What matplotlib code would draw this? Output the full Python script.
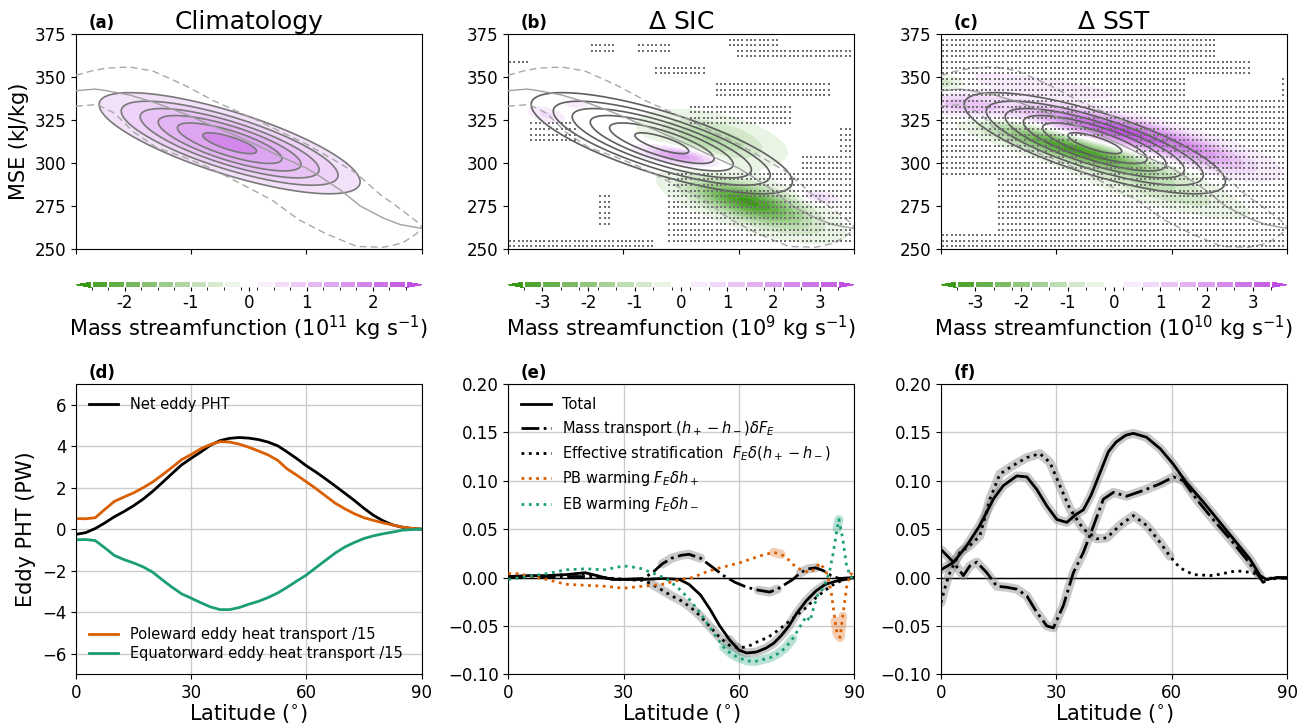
import numpy as np
import matplotlib
matplotlib.use("Agg")
import matplotlib.pyplot as plt
from matplotlib.colors import LinearSegmentedColormap, BoundaryNorm
from matplotlib.cm import ScalarMappable

# ------------------------------------------------------------------ data
lat_ticks = [0, 30, 60, 90]
mse_ticks = [250, 275, 300, 325, 350, 375]

# climatological mass streamfunction (10^11 kg/s), one sheared gaussian lobe
clim_x0 = [40.0]
clim_y0 = [311.5]
clim_amp = [1.85]
clim_a = [21.0]
clim_b = [11.75]
clim_slope = [-0.66]
clim_levels = [0.5, 0.75, 1.0, 1.25, 1.5, 1.75]

# Delta SIC (10^9 kg/s)
sic_x0 = [62, 53, 70, 45, 81, 10, 18]
sic_y0 = [278.5, 314, 266, 304, 280, 328, 334.5]
sic_amp = [-3.3, -1.45, -0.8, 2.3, 0.9, 0.7, 0.6]
sic_a = [10, 10, 10, 6, 3, 3, 2]
sic_b = [6.5, 8, 6, 3, 2.5, 2.5, 1.5]
sic_slope = [-0.5, -0.4, -0.5, -0.35, -0.3, -0.5, 0.0]

# Delta SST (10^10 kg/s)
sst_x0 = [47, 6, 70, 26, 35, 58, 0]
sst_y0 = [318.5, 333, 302, 345, 307.5, 283, 346]
sst_amp = [3.5, 1.3, 1.0, 0.55, -3.5, -0.9, -1.0]
sst_a = [16, 8, 9, 13, 15, 13, 4]
sst_b = [5.0, 5.0, 5.0, 3.0, 5.0, 5.5, 4.0]
sst_slope = [-0.5, -0.3, -0.55, -0.3, -0.6, -0.55, 0.0]

# zonal-mean MSE and its spread
mse_lat = [0, 5, 8, 14, 20, 25.5, 30, 34, 38, 43, 47, 51.5, 56, 60, 64, 69, 74, 80, 84.4, 90]
mse_mean = [342, 343, 342, 339.5, 335.5, 331, 327, 323, 319.5, 314.5, 310.5, 305.6, 301,
            297, 291.5, 284, 275, 268, 264.2, 262]
up_lat = [0, 4, 8, 14, 20, 28, 36, 41, 47, 53, 60, 67, 73, 79, 84, 88.7, 90]
mse_upper = [351, 353.5, 355.2, 355.8, 353.5, 345.5, 336, 331, 325, 318.5, 311, 302, 294,
             282, 274, 266, 263]
lo_lat = [0, 5.5, 10, 15, 21, 28, 34, 39, 45, 51, 58, 65, 73, 80, 85, 88.7, 90]
mse_lower = [333, 334, 329, 318, 309, 303.5, 298, 292.5, 285.5, 278.5, 267, 259, 251.5,
             251, 253.5, 259, 263]

# colour levels
levels_a = [-2.5, -2.25, -2.0, -1.75, -1.5, -1.25, -1.0, -0.75, -0.5, -0.25,
            0.25, 0.5, 0.75, 1.0, 1.25, 1.5, 1.75, 2.0, 2.25, 2.5]
levels_bc = [-3.4, -3.0, -2.6, -2.2, -1.8, -1.4, -1.0, -0.6, -0.2,
             0.2, 0.6, 1.0, 1.4, 1.8, 2.2, 2.6, 3.0, 3.4]
cbar_ticks_a = [-2, -1, 0, 1, 2]
cbar_ticks_bc = [-3, -2, -1, 0, 1, 2, 3]

# stippling: significant regions
stip_x = np.arange(0.5, 90, 1.12)
stip_y = np.arange(251.5, 375, 3.25)
sic_sig_x0 = [21, 33, 57, 59, 0, 38, 54, 5, 47, 41, 76, 0, 23, 86]
sic_sig_x1 = [28, 42, 70, 89, 5, 52, 84, 18, 74, 90, 90, 38, 27, 90]
sic_sig_y0 = [364, 364, 366, 361, 356, 350, 339, 313, 321, 252, 294, 251, 262, 300]
sic_sig_y1 = [369, 370, 373, 366, 361, 358, 348, 326, 333, 294, 305, 257, 282, 322]
sst_ns_x0 = [72, 81, 64, 0, 36]
sst_ns_x1 = [90, 90, 88, 15, 50]
sst_ns_y0 = [362, 352, 338, 261, 304]
sst_ns_y1 = [376, 362, 352, 291, 316]

# (d) eddy heat transport
d_lat = [0, 2.5, 5, 7.5, 10, 12.5, 15, 17.5, 20, 22.5, 25, 27.5, 30, 32.5, 35, 37.5, 40,
         42.5, 45, 47.5, 50, 52.5, 55, 57.5, 60, 62.5, 65, 67.5, 70, 72.5, 75, 77.5, 80,
         82.5, 85, 87.5, 90]
d_net = [-0.25, -0.17, 0.03, 0.3, 0.6, 0.85, 1.13, 1.45, 1.83, 2.25, 2.68, 3.1, 3.42, 3.72,
         4.05, 4.27, 4.38, 4.42, 4.39, 4.32, 4.2, 4.02, 3.72, 3.4, 3.05, 2.75, 2.42, 2.08,
         1.73, 1.38, 1.0, 0.66, 0.4, 0.2, 0.09, 0.03, 0.0]
d_pole = [0.51, 0.5, 0.55, 0.95, 1.34, 1.55, 1.75, 2.0, 2.28, 2.62, 2.98, 3.35, 3.6, 3.88,
          4.08, 4.22, 4.2, 4.1, 3.95, 3.77, 3.58, 3.32, 2.9, 2.6, 2.28, 1.95, 1.6, 1.25,
          0.98, 0.74, 0.55, 0.42, 0.3, 0.2, 0.1, 0.04, 0.0]
d_equ = [-0.51, -0.5, -0.55, -0.9, -1.27, -1.47, -1.63, -1.82, -2.08, -2.45, -2.8, -3.12,
         -3.33, -3.55, -3.75, -3.88, -3.88, -3.78, -3.62, -3.48, -3.3, -3.08, -2.8, -2.5,
         -2.21, -1.85, -1.5, -1.15, -0.86, -0.64, -0.45, -0.32, -0.22, -0.14, -0.05, -0.02, 0.0]

# (e) Delta SIC decomposition
e_tot_lat = [0, 5, 10, 15, 20, 23, 27, 30, 35, 40, 44.5, 47, 50, 52.5, 55, 57.5, 60, 62,
             64.5, 67, 69, 71, 73, 75, 77.5, 80, 82.5, 85, 87.5, 90]
e_tot = [0.001, 0.002, 0.002, 0.003, 0.005, 0.002, -0.002, -0.002, -0.002, -0.001, -0.002,
         -0.007, -0.018, -0.033, -0.05, -0.064, -0.075, -0.078, -0.077, -0.073, -0.068,
         -0.060, -0.050, -0.037, -0.024, -0.014, -0.007, -0.004, -0.002, 0.0]
e_mass_lat = [0, 10, 20, 30, 35, 37.5, 40, 42.5, 45, 47, 50, 53, 56, 59, 62, 65, 68, 70, 72,
              74, 76, 78, 80, 82, 84, 86, 90]
e_mass = [0, 0.001, 0.001, -0.002, -0.001, 0.005, 0.014, 0.020, 0.023, 0.024, 0.020, 0.011,
          0.002, -0.005, -0.010, -0.013, -0.015, -0.012, -0.007, -0.002, 0.005, 0.009,
          0.010, 0.007, 0.002, -0.001, 0.0]
e_strat_lat = [0, 5, 10, 15, 20, 25, 30, 35, 37, 40, 42.5, 45, 47.5, 50, 52.5, 55, 57.5, 60,
               62.5, 65, 67.5, 70, 72.5, 75, 77.5, 80, 82.5, 85, 87.5, 90]
e_strat = [0.001, 0.001, 0.002, 0.003, 0.004, 0.0, -0.002, -0.003, -0.006, -0.013, -0.019,
           -0.024, -0.031, -0.040, -0.051, -0.062, -0.070, -0.073, -0.071, -0.066, -0.062,
           -0.055, -0.047, -0.039, -0.031, -0.021, -0.013, -0.006, -0.002, 0.0]
e_pb_lat = [0, 2.5, 5, 10, 15, 20, 25, 30, 35, 40, 45, 48, 51, 54, 57, 60, 63, 66, 69, 71,
            73, 75, 77, 78.5, 80, 81, 82, 83, 84, 85, 85.5, 86.3, 87, 88, 89, 90]
e_pb = [0.004, 0.004, 0.002, -0.002, -0.007, -0.008, -0.009, -0.011, -0.009, -0.007, -0.002,
        0.0, 0.005, 0.009, 0.012, 0.015, 0.019, 0.023, 0.026, 0.024, 0.018, 0.010, 0.007,
        0.005, 0.010, 0.015, 0.010, 0.003, -0.015, -0.045, -0.058, -0.062, -0.040, -0.010,
        0.004, 0.002]
e_eb_lat = [0, 5, 10, 15, 20, 25, 30, 34, 38, 41, 44, 47, 50, 53, 56, 58, 60, 62, 64, 66,
            68, 70, 72, 74, 76, 77.5, 78.5, 79.5, 80.5, 82, 83.5, 84.5, 85.5, 86, 87, 88,
            89, 90]
e_eb = [-0.002, 0.001, 0.004, 0.008, 0.009, 0.008, 0.012, 0.010, 0.004, -0.001, -0.010,
        -0.022, -0.037, -0.055, -0.072, -0.079, -0.083, -0.086, -0.087, -0.085, -0.083,
        -0.079, -0.073, -0.063, -0.050, -0.040, -0.045, -0.030, -0.018, -0.010, 0.005,
        0.025, 0.050, 0.060, 0.040, 0.012, 0.001, -0.002]
e_labels = ["Total",
            r"Mass transport $(h_+ - h_-)\delta F_E$",
            r"Effective stratification  $F_E\delta(h_+ - h_-)$",
            r"PB warming $F_E\delta h_+$",
            r"EB warming $F_E\delta h_-$"]

# (f) Delta SST decomposition
f_tot_lat = [0, 3.2, 6.7, 10.1, 13.6, 16.2, 19.7, 22.3, 24.9, 27.5, 30.1, 32.7, 35, 37,
             39, 41.5, 43.5, 45.5, 48, 50, 53.4, 57, 60.4, 63.8, 68.2, 72.5, 76.8, 80.3,
             82.9, 84.6, 87.2, 90]
f_tot = [0.008, 0.0155, 0.033, 0.054, 0.081, 0.095, 0.105, 0.104, 0.091, 0.074, 0.06,
         0.057, 0.065, 0.07, 0.085, 0.11, 0.13, 0.14, 0.147, 0.149, 0.145, 0.133, 0.117,
         0.098, 0.078, 0.057, 0.036, 0.019, 0.002, -0.002, 0.0, -0.001]
f_mass_lat = [0, 3.2, 5.8, 7.5, 9.3, 11.9, 14.5, 17, 19.7, 22.3, 24.9, 27.5, 29.2, 31.8,
              34.4, 37, 39.6, 42.2, 44.8, 48.2, 52.6, 57, 60.4, 63, 66.4, 70.7, 75.1, 79.4,
              82, 83.7, 86, 90]
f_mass = [0.029, 0.016, 0.002, 0.012, 0.016, 0.005, -0.009, -0.01, -0.012, -0.019, -0.036,
          -0.05, -0.052, -0.029, 0.005, 0.026, 0.053, 0.081, 0.088, 0.084, 0.09, 0.097,
          0.104, 0.1, 0.081, 0.06, 0.04, 0.019, 0.005, -0.005, 0.0, 0.0]
f_strat_lat = [0, 1.2, 2.3, 4.9, 7.5, 10.1, 12.7, 15.3, 18.8, 22.3, 25.7, 28.3, 30.9, 33.5,
               37, 40.5, 43.1, 46.5, 50, 53.4, 57, 59.5, 62.1, 65.6, 70.7, 76.8, 81.1,
               84.6, 90]
f_strat = [-0.026, -0.008, 0.005, 0.026, 0.033, 0.043, 0.081, 0.107, 0.116, 0.124, 0.128,
           0.119, 0.095, 0.071, 0.05, 0.04, 0.041, 0.054, 0.064, 0.054, 0.036, 0.022,
           0.01, 0.003, 0.002, 0.007, 0.005, -0.002, 0.0]

# ------------------------------------------------------------------ figure
W, H = 1307, 723
fig = plt.figure(figsize=(W / 100, H / 100), dpi=100)


def px_axes(l, t, r, b):
    return fig.add_axes([l / W, 1 - b / H, (r - l) / W, (b - t) / H])


cmap = LinearSegmentedColormap.from_list("gwp", ["#3a9a18", "#ffffff", "#bf4fe2"])


def mknorm(levels):
    return BoundaryNorm(levels, cmap.N, extend="both")


gx = np.linspace(0, 90, 361)
gy = np.linspace(250, 375, 501)
GX, GY = np.meshgrid(gx, gy)


def field(x0s, y0s, amps, As, Bs, slopes):
    Z = np.zeros_like(GX)
    for x0, y0, A, a, b, s in zip(x0s, y0s, amps, As, Bs, slopes):
        u = GX - x0
        v = (GY - y0) - s * u
        Z += A * np.exp(-0.5 * (u / a) ** 2 - 0.5 * (v / b) ** 2)
    return Z


Zc = field(clim_x0, clim_y0, clim_amp, clim_a, clim_b, clim_slope)
Zs = field(sic_x0, sic_y0, sic_amp, sic_a, sic_b, sic_slope)
Zt = field(sst_x0, sst_y0, sst_amp, sst_a, sst_b, sst_slope)


def overlay(ax, clim_color):
    ax.contour(GX, GY, Zc, levels=clim_levels, colors=clim_color, linewidths=1.2, zorder=4)
    ax.plot(mse_lat, mse_mean, color="#a0a0a0", lw=1.0, zorder=4)
    ax.plot(up_lat, mse_upper, color="#a8a8a8", lw=1.0, ls=(0, (5, 3)), zorder=4)
    ax.plot(lo_lat, mse_lower, color="#a8a8a8", lw=1.0, ls=(0, (5, 3)), zorder=4)


def stipple(ax, x0, x1, y0, y1, include=True):
    SX, SY = np.meshgrid(stip_x, stip_y)
    if include:
        m = np.zeros_like(SX, dtype=bool)
        for a, b, c, d in zip(x0, x1, y0, y1):
            m |= (SX >= a) & (SX <= b) & (SY >= c) & (SY <= d)
    else:
        m = np.ones_like(SX, dtype=bool)
        for a, b, c, d in zip(x0, x1, y0, y1):
            m &= ~((SX >= a) & (SX <= b) & (SY >= c) & (SY <= d))
    ax.scatter(SX[m], SY[m], s=0.8, marker="s", c="#707070", linewidths=0, zorder=5)


def setup_top(ax, title, letter, ylabel=None):
    ax.set_xlim(0, 90)
    ax.set_ylim(250, 375)
    ax.set_xticks(lat_ticks)
    ax.set_xticklabels([])
    ax.set_yticks(mse_ticks)
    ax.tick_params(labelsize=12)
    ax.set_title(title, fontsize=18, pad=3.5)
    ax.text(0.037, 1.026, letter, transform=ax.transAxes, fontsize=12,
            fontweight="bold", va="baseline", ha="left")
    if ylabel:
        ax.set_ylabel(ylabel, fontsize=15)


def colorbar(cax, levels, ticks, exp):
    sm = ScalarMappable(norm=mknorm(levels), cmap=cmap)
    cb = fig.colorbar(sm, cax=cax, orientation="horizontal", extend="both", drawedges=True)
    cb.outline.set_visible(False)
    cb.dividers.set_color("white")
    cb.dividers.set_linewidth(1.5)
    cb.set_ticks(ticks)
    cb.set_ticklabels([str(t) for t in ticks])
    cb.ax.tick_params(labelsize=12, length=3, width=0.8, pad=2)
    cb.set_label(r"Mass streamfunction ($10^{%s}$ kg s$^{-1}$)" % exp, fontsize=15,
                 labelpad=1)


tops = [(76, 34, 421.7, 249), (508, 34, 854, 249), (941, 34, 1287, 249)]
cbs = [(76, 282, 421.7, 287.5), (508, 282, 854, 287.5), (941, 282, 1287, 287.5)]
bots = [(76, 384, 421.7, 674.3), (508.3, 384, 854.3, 674.3), (941, 384, 1287.3, 674.3)]

# (a)
ax = px_axes(*tops[0])
ax.contourf(GX, GY, Zc, levels=clim_levels + [2.5], cmap=cmap, norm=mknorm(levels_a),
            alpha=0.85)
overlay(ax, "#7a7a7a")
setup_top(ax, "Climatology", "(a)", "MSE (kJ/kg)")
colorbar(px_axes(*cbs[0]), levels_a, cbar_ticks_a, "11")

# (b)
ax = px_axes(*tops[1])
ax.contourf(GX, GY, Zs, levels=levels_bc, cmap=cmap, norm=mknorm(levels_bc), extend="both")
overlay(ax, "#5e5e5e")
stipple(ax, sic_sig_x0, sic_sig_x1, sic_sig_y0, sic_sig_y1, include=True)
setup_top(ax, r"$\Delta$ SIC", "(b)")
colorbar(px_axes(*cbs[1]), levels_bc, cbar_ticks_bc, "9")

# (c)
ax = px_axes(*tops[2])
ax.contourf(GX, GY, Zt, levels=levels_bc, cmap=cmap, norm=mknorm(levels_bc), extend="both")
overlay(ax, "#5e5e5e")
stipple(ax, sst_ns_x0, sst_ns_x1, sst_ns_y0, sst_ns_y1, include=False)
setup_top(ax, r"$\Delta$ SST", "(c)")
colorbar(px_axes(*cbs[2]), levels_bc, cbar_ticks_bc, "10")

ORANGE = "#d95f02"
GREEN = "#1b9e77"


def setup_bottom(ax, letter, ylim, yticks):
    ax.set_xlim(0, 90)
    ax.set_ylim(*ylim)
    ax.set_xticks(lat_ticks)
    ax.set_yticks(yticks)
    ax.grid(True, color="#cccccc", lw=1.0)
    ax.set_axisbelow(True)
    ax.tick_params(labelsize=12)
    ax.set_xlabel(r"Latitude ($^{\circ}$)", fontsize=15, labelpad=0)
    ax.text(0.037, 1.019, letter, transform=ax.transAxes, fontsize=12,
            fontweight="bold", va="baseline", ha="left")


def halo(ax, x, y, ranges, color, alpha):
    x = np.asarray(x)
    y = np.asarray(y)
    for lo, hi in ranges:
        m = (x >= lo) & (x <= hi)
        ax.plot(x[m], y[m], color=color, lw=6.5, alpha=alpha, solid_capstyle="round",
                solid_joinstyle="round", zorder=2)


# (d)
ax = px_axes(*bots[0])
setup_bottom(ax, "(d)", (-7, 7), [-6, -4, -2, 0, 2, 4, 6])
l1, = ax.plot(d_lat, d_net, color="black", lw=2, label="Net eddy PHT")
l2, = ax.plot(d_lat, d_pole, color=ORANGE, lw=2, label="Poleward eddy heat transport /15")
l3, = ax.plot(d_lat, d_equ, color=GREEN, lw=2, label="Equatorward eddy heat transport /15")
leg1 = ax.legend(handles=[l1], loc="upper left", frameon=False, fontsize=10.5)
ax.add_artist(leg1)
ax.legend(handles=[l2, l3], loc="lower left", frameon=False, fontsize=10.5, labelspacing=0.3)
ax.set_ylabel("Eddy PHT (PW)", fontsize=15)

# (e)
ax = px_axes(*bots[1])
setup_bottom(ax, "(e)", (-0.1, 0.2), [-0.1, -0.05, 0, 0.05, 0.1, 0.15, 0.2])
ax.axhline(0, color="black", lw=1, zorder=1.5)
halo(ax, e_tot_lat, e_tot, [(57, 84)], "#888888", 0.45)
halo(ax, e_strat_lat, e_strat, [(37, 62)], "#888888", 0.45)
halo(ax, e_mass_lat, e_mass, [(39, 50), (64, 70), (76, 81)], "#888888", 0.45)
halo(ax, e_pb_lat, e_pb, [(67, 71), (84.5, 87)], ORANGE, 0.3)
halo(ax, e_eb_lat, e_eb, [(54, 75), (85, 86.8)], GREEN, 0.3)
h1, = ax.plot(e_tot_lat, e_tot, color="black", lw=2, zorder=3)
h2, = ax.plot(e_mass_lat, e_mass, color="black", lw=2, ls="-.", zorder=3)
h3, = ax.plot(e_strat_lat, e_strat, color="black", lw=2, ls=":", zorder=3)
h4, = ax.plot(e_pb_lat, e_pb, color=ORANGE, lw=2, ls=":", zorder=3)
h5, = ax.plot(e_eb_lat, e_eb, color=GREEN, lw=2, ls=":", zorder=3)
ax.legend([h1, h2, h3, h4, h5], e_labels, loc="upper left", frameon=False,
          fontsize=10.5, labelspacing=0.45)

# (f)
ax = px_axes(*bots[2])
setup_bottom(ax, "(f)", (-0.1, 0.2), [-0.1, -0.05, 0, 0.05, 0.1, 0.15, 0.2])
ax.axhline(0, color="black", lw=1, zorder=1.5)
halo(ax, f_tot_lat, f_tot, [(0, 84)], "#888888", 0.45)
halo(ax, f_strat_lat, f_strat, [(0, 62), (75, 78)], "#888888", 0.45)
halo(ax, f_mass_lat, f_mass, [(0, 82)], "#888888", 0.45)
ax.plot(f_tot_lat, f_tot, color="black", lw=2, zorder=3)
ax.plot(f_mass_lat, f_mass, color="black", lw=2, ls="-.", zorder=3)
ax.plot(f_strat_lat, f_strat, color="black", lw=2, ls=":", zorder=3)

fig.savefig("out.png", dpi=100)
